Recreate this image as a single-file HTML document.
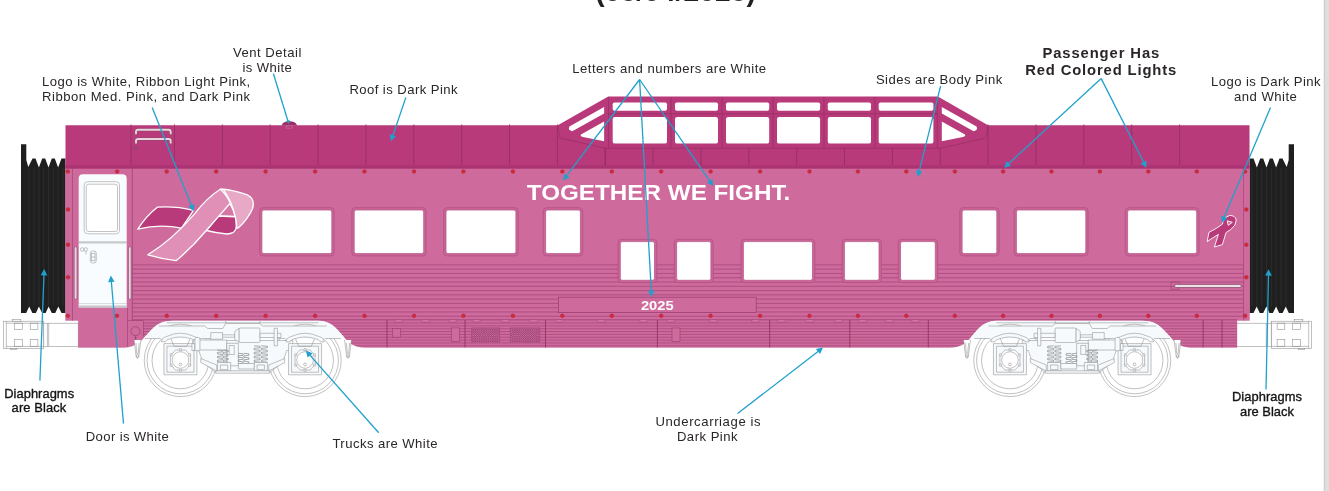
<!DOCTYPE html>
<html><head><meta charset="utf-8"><title>Passenger Car Color Guide</title>
<style>html,body{margin:0;padding:0;background:#fff;}body{width:1329px;height:491px;overflow:hidden;position:relative;font-family:"Liberation Sans",sans-serif;}svg{position:absolute;left:0;top:0;display:block;will-change:transform;}text{font-family:"Liberation Sans",sans-serif;}</style>
</head><body>
<svg width="1329" height="491" viewBox="0 0 1329 491">
<rect x="0" y="0" width="1329" height="491" fill="#ffffff"/>
<rect x="1323.8" y="0" width="5.2" height="491" fill="#DEDEDE"/>
<rect x="1323.8" y="0" width="1.3" height="491" fill="#CFCFCF"/>
<text x="675.6" y="1.4" font-size="29" font-weight="bold" fill="#231F20" text-anchor="middle" textLength="160.5" lengthAdjust="spacingAndGlyphs">(08/04/2025)</text>
<g fill="#ffffff" stroke="#8C8C8C" stroke-width="0.55"><rect x="3.4" y="321.2" width="40.4" height="27.3"/><rect x="43.8" y="323.2" width="34.6" height="23.2"/><path d="M6.3,321.2 L6.3,348.5 M6.3,323.2 L43.8,323.2 M6.3,346.4 L43.8,346.4 M47.4,323.2 L47.4,346.4 M48.7,323.2 L48.7,346.4" fill="none"/><rect x="14.3" y="323.2" width="8.3" height="6.4" fill="none"/><rect x="30.2" y="323.2" width="7.7" height="6.4" fill="none"/><rect x="14.3" y="339.5" width="8.3" height="6.9" fill="none"/><rect x="30.2" y="339.5" width="7.7" height="6.9" fill="none"/><rect x="12.2" y="319.3" width="8.7" height="1.9"/><rect x="10.2" y="348.5" width="6.6" height="1"/></g>
<g transform="translate(1315,0) scale(-1,1)"><g fill="#ffffff" stroke="#8C8C8C" stroke-width="0.55"><rect x="3.4" y="321.2" width="40.4" height="27.3"/><rect x="43.8" y="323.2" width="34.6" height="23.2"/><path d="M6.3,321.2 L6.3,348.5 M6.3,323.2 L43.8,323.2 M6.3,346.4 L43.8,346.4 M47.4,323.2 L47.4,346.4 M48.7,323.2 L48.7,346.4" fill="none"/><rect x="14.3" y="323.2" width="8.3" height="6.4" fill="none"/><rect x="30.2" y="323.2" width="7.7" height="6.4" fill="none"/><rect x="14.3" y="339.5" width="8.3" height="6.9" fill="none"/><rect x="30.2" y="339.5" width="7.7" height="6.9" fill="none"/><rect x="12.2" y="319.3" width="8.7" height="1.9"/><rect x="10.2" y="348.5" width="6.6" height="1"/></g></g>
<g><path d="M21,144.3 L26.3,144.3 L26.3,160 L28.3,167 L32.5,158.5 L35.5,158.5 L38.9,167.5 L42.2,158.5 L45.2,158.5 L48.5,167.5 L51.8,158.5 L54.8,158.5 L58.1,167.5 L61.5,158.5 L64.5,158.5 L65.5,158.5 L65.5,313 L63.5,313 L65.5,313.0 L61.5,313.0 L58.3,306.5 L55.3,313.0 L51.8,313.0 L48.6,306.5 L45.6,313.0 L42.1,313.0 L38.9,306.5 L35.9,313.0 L32.4,313.0 L29.2,306.5 L26.2,313.0 L21.0,313.0 Z" fill="#1F1F1F"/><line x1="29.0" y1="168" x2="29.0" y2="306" stroke="#3a3a3a" stroke-width="0.5"/><line x1="34.0" y1="168" x2="34.0" y2="306" stroke="#3a3a3a" stroke-width="0.5"/><line x1="39.0" y1="168" x2="39.0" y2="306" stroke="#3a3a3a" stroke-width="0.5"/><line x1="43.7" y1="168" x2="43.7" y2="306" stroke="#3a3a3a" stroke-width="0.5"/><line x1="48.5" y1="168" x2="48.5" y2="306" stroke="#3a3a3a" stroke-width="0.5"/><line x1="53.3" y1="168" x2="53.3" y2="306" stroke="#3a3a3a" stroke-width="0.5"/><line x1="58.0" y1="168" x2="58.0" y2="306" stroke="#3a3a3a" stroke-width="0.5"/><line x1="63.0" y1="168" x2="63.0" y2="306" stroke="#3a3a3a" stroke-width="0.5"/></g>
<g transform="translate(1315,0) scale(-1,1)"><path d="M21,144.3 L26.3,144.3 L26.3,160 L28.3,167 L32.5,158.5 L35.5,158.5 L38.9,167.5 L42.2,158.5 L45.2,158.5 L48.5,167.5 L51.8,158.5 L54.8,158.5 L58.1,167.5 L61.5,158.5 L64.5,158.5 L65.5,158.5 L65.5,313 L63.5,313 L65.5,313.0 L61.5,313.0 L58.3,306.5 L55.3,313.0 L51.8,313.0 L48.6,306.5 L45.6,313.0 L42.1,313.0 L38.9,306.5 L35.9,313.0 L32.4,313.0 L29.2,306.5 L26.2,313.0 L21.0,313.0 Z" fill="#1F1F1F"/><line x1="29.0" y1="168" x2="29.0" y2="306" stroke="#3a3a3a" stroke-width="0.5"/><line x1="34.0" y1="168" x2="34.0" y2="306" stroke="#3a3a3a" stroke-width="0.5"/><line x1="39.0" y1="168" x2="39.0" y2="306" stroke="#3a3a3a" stroke-width="0.5"/><line x1="43.7" y1="168" x2="43.7" y2="306" stroke="#3a3a3a" stroke-width="0.5"/><line x1="48.5" y1="168" x2="48.5" y2="306" stroke="#3a3a3a" stroke-width="0.5"/><line x1="53.3" y1="168" x2="53.3" y2="306" stroke="#3a3a3a" stroke-width="0.5"/><line x1="58.0" y1="168" x2="58.0" y2="306" stroke="#3a3a3a" stroke-width="0.5"/><line x1="63.0" y1="168" x2="63.0" y2="306" stroke="#3a3a3a" stroke-width="0.5"/></g>
<defs><clipPath id="bodyclip"><path d="M65.5,166 L1249.5,166 L1249.5,320.5 L1237,320.5 L1237,347.4 L1190.6,347.4 C1179.0,347.4 1173.0,340.0 1166.1,332.5 S1155.0,320.8 1141.7,320.8 L997.0,320.8 C983.0,320.8 978.0,329.0 972.4,335.5 S963.0,347.4 949.0,347.4 L366,347.4 C352,347.4 348.5,342 342.6,335.5 S332,320.8 318,320.8 L173.3,320.8 C160,320.8 155,325.5 148.9,332.5 S136,347.4 124.4,347.4 L78.3,347.4 L78.3,320.5 L65.5,320.5 Z"/></clipPath></defs>
<path d="M65.5,166 L1249.5,166 L1249.5,320.5 L1237,320.5 L1237,347.4 L1190.6,347.4 C1179.0,347.4 1173.0,340.0 1166.1,332.5 S1155.0,320.8 1141.7,320.8 L997.0,320.8 C983.0,320.8 978.0,329.0 972.4,335.5 S963.0,347.4 949.0,347.4 L366,347.4 C352,347.4 348.5,342 342.6,335.5 S332,320.8 318,320.8 L173.3,320.8 C160,320.8 155,325.5 148.9,332.5 S136,347.4 124.4,347.4 L78.3,347.4 L78.3,320.5 L65.5,320.5 Z" fill="#CE6A9C"/>
<g clip-path="url(#bodyclip)">
<line x1="132.5" y1="264.90" x2="1243.5" y2="264.90" stroke="#9A3E72" stroke-width="0.6"/><line x1="132.5" y1="269.18" x2="1243.5" y2="269.18" stroke="#9A3E72" stroke-width="0.6"/><line x1="132.5" y1="273.46" x2="1243.5" y2="273.46" stroke="#9A3E72" stroke-width="0.6"/><line x1="132.5" y1="277.74" x2="1243.5" y2="277.74" stroke="#9A3E72" stroke-width="0.6"/><line x1="132.5" y1="282.02" x2="1243.5" y2="282.02" stroke="#9A3E72" stroke-width="0.6"/><line x1="132.5" y1="286.30" x2="1243.5" y2="286.30" stroke="#9A3E72" stroke-width="0.6"/><line x1="132.5" y1="290.58" x2="1243.5" y2="290.58" stroke="#9A3E72" stroke-width="0.6"/><line x1="132.5" y1="294.86" x2="1243.5" y2="294.86" stroke="#9A3E72" stroke-width="0.6"/><line x1="132.5" y1="299.14" x2="1243.5" y2="299.14" stroke="#9A3E72" stroke-width="0.6"/><line x1="132.5" y1="303.42" x2="1243.5" y2="303.42" stroke="#9A3E72" stroke-width="0.6"/><line x1="132.5" y1="307.70" x2="1243.5" y2="307.70" stroke="#9A3E72" stroke-width="0.6"/><line x1="132.5" y1="311.98" x2="1243.5" y2="311.98" stroke="#9A3E72" stroke-width="0.6"/><line x1="132.5" y1="316.26" x2="1243.5" y2="316.26" stroke="#9A3E72" stroke-width="0.6"/>
<line x1="132.5" y1="319.8" x2="1237" y2="319.8" stroke="#9A3E72" stroke-width="0.8"/>
<line x1="143.5" y1="323.00" x2="1237" y2="323.00" stroke="#9A3E72" stroke-width="0.6"/><line x1="143.5" y1="325.85" x2="1237" y2="325.85" stroke="#9A3E72" stroke-width="0.6"/><line x1="143.5" y1="328.70" x2="1237" y2="328.70" stroke="#9A3E72" stroke-width="0.6"/><line x1="143.5" y1="331.55" x2="1237" y2="331.55" stroke="#9A3E72" stroke-width="0.6"/><line x1="143.5" y1="334.40" x2="1237" y2="334.40" stroke="#9A3E72" stroke-width="0.6"/><line x1="143.5" y1="337.25" x2="1237" y2="337.25" stroke="#9A3E72" stroke-width="0.6"/><line x1="143.5" y1="340.10" x2="1237" y2="340.10" stroke="#9A3E72" stroke-width="0.6"/><line x1="143.5" y1="342.95" x2="1237" y2="342.95" stroke="#9A3E72" stroke-width="0.6"/><line x1="143.5" y1="345.80" x2="1237" y2="345.80" stroke="#9A3E72" stroke-width="0.6"/>
</g>
<line x1="387.0" y1="320" x2="387.0" y2="347.5" stroke="#8E2C5E" stroke-width="0.8"/>
<line x1="465.0" y1="320" x2="465.0" y2="347.5" stroke="#8E2C5E" stroke-width="0.8"/>
<line x1="545.5" y1="320" x2="545.5" y2="347.5" stroke="#8E2C5E" stroke-width="0.8"/>
<line x1="657.4" y1="320" x2="657.4" y2="347.5" stroke="#8E2C5E" stroke-width="0.8"/>
<line x1="769.7" y1="320" x2="769.7" y2="347.5" stroke="#8E2C5E" stroke-width="0.8"/>
<line x1="849.8" y1="320" x2="849.8" y2="347.5" stroke="#8E2C5E" stroke-width="0.8"/>
<line x1="928.3" y1="320" x2="928.3" y2="347.5" stroke="#8E2C5E" stroke-width="0.8"/>
<line x1="1203.1" y1="320" x2="1203.1" y2="347.5" stroke="#8E2C5E" stroke-width="0.8"/>
<line x1="1222.0" y1="320" x2="1222.0" y2="347.5" stroke="#8E2C5E" stroke-width="0.8"/>
<path d="M65.5,166 L1249.5,166 L1249.5,320.5 L1237,320.5 L1237,347.4 L1190.6,347.4 C1179.0,347.4 1173.0,340.0 1166.1,332.5 S1155.0,320.8 1141.7,320.8 L997.0,320.8 C983.0,320.8 978.0,329.0 972.4,335.5 S963.0,347.4 949.0,347.4 L366,347.4 C352,347.4 348.5,342 342.6,335.5 S332,320.8 318,320.8 L173.3,320.8 C160,320.8 155,325.5 148.9,332.5 S136,347.4 124.4,347.4 L78.3,347.4 L78.3,320.5 L65.5,320.5 Z" fill="none" stroke="#BD588C" stroke-width="0.5" opacity="0.6"/>
<rect x="392.4" y="328.5" width="8.1" height="8.7" fill="#CE6A9C" stroke="#9A3E72" stroke-width="0.60"/>
<rect x="451.4" y="327.9" width="8.3" height="13.5" fill="#CE6A9C" stroke="#9A3E72" stroke-width="0.60"/>
<rect x="672.0" y="328.0" width="8.0" height="13.5" fill="#CE6A9C" stroke="#9A3E72" stroke-width="0.60"/>
<defs><pattern id="grille" width="2.2" height="2.2" patternUnits="userSpaceOnUse"><rect width="2.2" height="2.2" fill="#CA689A"/><path d="M0,0 L2.2,2.2 M2.2,0 L0,2.2" stroke="#8E3A68" stroke-width="0.5"/></pattern></defs>
<rect x="471.3" y="327.9" width="28.5" height="14.1" fill="url(#grille)" stroke="#A04878" stroke-width="0.5"/>
<rect x="510.2" y="327.9" width="29.7" height="14.1" fill="url(#grille)" stroke="#A04878" stroke-width="0.5"/>
<ellipse cx="398.7" cy="320.9" rx="4.5" ry="1.35" fill="#D377A5" stroke="#9A3E72" stroke-width="0.5"/>
<ellipse cx="425.8" cy="320.9" rx="4.5" ry="1.35" fill="#D377A5" stroke="#9A3E72" stroke-width="0.5"/>
<ellipse cx="452.7" cy="320.9" rx="4.5" ry="1.35" fill="#D377A5" stroke="#9A3E72" stroke-width="0.5"/>
<ellipse cx="476.4" cy="320.9" rx="4.5" ry="1.35" fill="#D377A5" stroke="#9A3E72" stroke-width="0.5"/>
<ellipse cx="505.3" cy="320.9" rx="4.5" ry="1.35" fill="#D377A5" stroke="#9A3E72" stroke-width="0.5"/>
<ellipse cx="533.8" cy="320.9" rx="4.5" ry="1.35" fill="#D377A5" stroke="#9A3E72" stroke-width="0.5"/>
<ellipse cx="559.3" cy="320.9" rx="4.5" ry="1.35" fill="#D377A5" stroke="#9A3E72" stroke-width="0.5"/>
<ellipse cx="601.1" cy="320.9" rx="4.5" ry="1.35" fill="#D377A5" stroke="#9A3E72" stroke-width="0.5"/>
<ellipse cx="643.7" cy="320.9" rx="4.5" ry="1.35" fill="#D377A5" stroke="#9A3E72" stroke-width="0.5"/>
<ellipse cx="670.7" cy="320.9" rx="4.5" ry="1.35" fill="#D377A5" stroke="#9A3E72" stroke-width="0.5"/>
<ellipse cx="713.3" cy="320.9" rx="4.5" ry="1.35" fill="#D377A5" stroke="#9A3E72" stroke-width="0.5"/>
<ellipse cx="755.6" cy="320.9" rx="4.5" ry="1.35" fill="#D377A5" stroke="#9A3E72" stroke-width="0.5"/>
<ellipse cx="781.5" cy="320.9" rx="4.5" ry="1.35" fill="#D377A5" stroke="#9A3E72" stroke-width="0.5"/>
<ellipse cx="809.9" cy="320.9" rx="4.5" ry="1.35" fill="#D377A5" stroke="#9A3E72" stroke-width="0.5"/>
<ellipse cx="838.6" cy="320.9" rx="4.5" ry="1.35" fill="#D377A5" stroke="#9A3E72" stroke-width="0.5"/>
<ellipse cx="862.3" cy="320.9" rx="4.5" ry="1.35" fill="#D377A5" stroke="#9A3E72" stroke-width="0.5"/>
<ellipse cx="889.3" cy="320.9" rx="4.5" ry="1.35" fill="#D377A5" stroke="#9A3E72" stroke-width="0.5"/>
<ellipse cx="915.7" cy="320.9" rx="4.5" ry="1.35" fill="#D377A5" stroke="#9A3E72" stroke-width="0.5"/>
<rect x="558.6" y="297.2" width="197.6" height="15.2" fill="#CE6A9C" stroke="#9A3E72" stroke-width="0.7"/>
<text x="657.3" y="310" font-size="13.4" font-weight="bold" fill="#ffffff" text-anchor="middle" textLength="32.8" lengthAdjust="spacingAndGlyphs">2025</text>
<line x1="72.5" y1="168" x2="72.5" y2="320.5" stroke="#9A3E72" stroke-width="0.6"/>
<line x1="132.3" y1="168" x2="132.3" y2="320.5" stroke="#9A3E72" stroke-width="0.7"/>
<line x1="1243.5" y1="168" x2="1243.5" y2="320.5" stroke="#9A3E72" stroke-width="0.6"/>
<line x1="127.5" y1="308" x2="127.5" y2="347" stroke="#9A3E72" stroke-width="0.6"/>
<line x1="143.5" y1="321" x2="143.5" y2="336" stroke="#9A3E72" stroke-width="0.6"/>
<line x1="127.5" y1="320.5" x2="143.5" y2="320.5" stroke="#9A3E72" stroke-width="0.6"/>
<circle cx="135.5" cy="331.2" r="4.5" fill="none" stroke="#9A3E72" stroke-width="0.7"/>
<path d="M135.5,335.7 L135.5,340 M134,338 L137,338" fill="none" stroke="#9A3E72" stroke-width="0.7"/>
<path d="M65.5,125.3 L557.8,125.3 L608.2,96.4 L937.8,96.4 L988.1,125.3 L1249.5,125.3 L1249.5,168.5 L65.5,168.5 Z" fill="#B93A7A"/>
<rect x="65.5" y="165.4" width="1184" height="3.1" fill="#A93373"/>
<line x1="131.0" y1="124.3" x2="131.0" y2="165" stroke="#8E2C5E" stroke-width="0.7"/>
<line x1="174.5" y1="124.3" x2="174.5" y2="165" stroke="#8E2C5E" stroke-width="0.7"/>
<line x1="222.4" y1="124.3" x2="222.4" y2="165" stroke="#8E2C5E" stroke-width="0.7"/>
<line x1="270.2" y1="124.3" x2="270.2" y2="165" stroke="#8E2C5E" stroke-width="0.7"/>
<line x1="318.1" y1="124.3" x2="318.1" y2="165" stroke="#8E2C5E" stroke-width="0.7"/>
<line x1="365.9" y1="124.3" x2="365.9" y2="165" stroke="#8E2C5E" stroke-width="0.7"/>
<line x1="413.8" y1="124.3" x2="413.8" y2="165" stroke="#8E2C5E" stroke-width="0.7"/>
<line x1="461.7" y1="124.3" x2="461.7" y2="165" stroke="#8E2C5E" stroke-width="0.7"/>
<line x1="509.5" y1="124.3" x2="509.5" y2="165" stroke="#8E2C5E" stroke-width="0.7"/>
<line x1="557.4" y1="124.3" x2="557.4" y2="165" stroke="#8E2C5E" stroke-width="0.7"/>
<line x1="605.2" y1="148.2" x2="605.2" y2="165" stroke="#8E2C5E" stroke-width="0.7"/>
<line x1="653.1" y1="148.2" x2="653.1" y2="165" stroke="#8E2C5E" stroke-width="0.7"/>
<line x1="701.0" y1="148.2" x2="701.0" y2="165" stroke="#8E2C5E" stroke-width="0.7"/>
<line x1="748.8" y1="148.2" x2="748.8" y2="165" stroke="#8E2C5E" stroke-width="0.7"/>
<line x1="796.7" y1="148.2" x2="796.7" y2="165" stroke="#8E2C5E" stroke-width="0.7"/>
<line x1="844.5" y1="148.2" x2="844.5" y2="165" stroke="#8E2C5E" stroke-width="0.7"/>
<line x1="892.4" y1="148.2" x2="892.4" y2="165" stroke="#8E2C5E" stroke-width="0.7"/>
<line x1="940.3" y1="148.2" x2="940.3" y2="165" stroke="#8E2C5E" stroke-width="0.7"/>
<line x1="988.1" y1="124.3" x2="988.1" y2="165" stroke="#8E2C5E" stroke-width="0.7"/>
<line x1="1036.0" y1="124.3" x2="1036.0" y2="165" stroke="#8E2C5E" stroke-width="0.7"/>
<line x1="1083.8" y1="124.3" x2="1083.8" y2="165" stroke="#8E2C5E" stroke-width="0.7"/>
<line x1="1131.7" y1="124.3" x2="1131.7" y2="165" stroke="#8E2C5E" stroke-width="0.7"/>
<line x1="1179.6" y1="124.3" x2="1179.6" y2="165" stroke="#8E2C5E" stroke-width="0.7"/>
<path d="M557.8,125.3 L560,138 L605,148.2 L941,148.2 L986,138 L988.1,125.3" fill="none" stroke="#8E2C5E" stroke-width="0.6"/>
<line x1="605.4" y1="148.2" x2="605.4" y2="165" stroke="#8E2C5E" stroke-width="0.7"/>
<line x1="608.5" y1="97" x2="608.5" y2="148" stroke="#8E2C5E" stroke-width="0.6"/>
<line x1="671.0" y1="97" x2="671.0" y2="148" stroke="#8E2C5E" stroke-width="0.6"/>
<line x1="722.0" y1="97" x2="722.0" y2="148" stroke="#8E2C5E" stroke-width="0.6"/>
<line x1="773.0" y1="97" x2="773.0" y2="148" stroke="#8E2C5E" stroke-width="0.6"/>
<line x1="824.0" y1="97" x2="824.0" y2="148" stroke="#8E2C5E" stroke-width="0.6"/>
<line x1="875.0" y1="97" x2="875.0" y2="148" stroke="#8E2C5E" stroke-width="0.6"/>
<line x1="937.3" y1="97" x2="937.3" y2="148" stroke="#8E2C5E" stroke-width="0.6"/>
<line x1="608" y1="113.8" x2="938" y2="113.8" stroke="#8E2C5E" stroke-width="0.6"/>
<rect x="612.7" y="102.4" width="54.3" height="8.3" rx="1.8" fill="#ffffff"/>
<rect x="612.7" y="117" width="54.3" height="26.6" rx="2.2" fill="#ffffff"/>
<rect x="675.0" y="102.4" width="43.0" height="8.3" rx="1.8" fill="#ffffff"/>
<rect x="675.0" y="117" width="43.0" height="26.6" rx="2.2" fill="#ffffff"/>
<rect x="726.0" y="102.4" width="43.2" height="8.3" rx="1.8" fill="#ffffff"/>
<rect x="726.0" y="117" width="43.2" height="26.6" rx="2.2" fill="#ffffff"/>
<rect x="777.0" y="102.4" width="43.1" height="8.3" rx="1.8" fill="#ffffff"/>
<rect x="777.0" y="117" width="43.1" height="26.6" rx="2.2" fill="#ffffff"/>
<rect x="827.8" y="102.4" width="43.2" height="8.3" rx="1.8" fill="#ffffff"/>
<rect x="827.8" y="117" width="43.2" height="26.6" rx="2.2" fill="#ffffff"/>
<rect x="878.7" y="102.4" width="54.7" height="8.3" rx="1.8" fill="#ffffff"/>
<rect x="878.7" y="117" width="54.7" height="26.6" rx="2.2" fill="#ffffff"/>
<path d="M572.3,131.2 L604.1,113.4 L604.1,107 L569.4,126.6 Q567.6,130.6 572.3,131.2 Z" fill="#ffffff"/>
<path d="M581,134.6 L604.1,121.4 L604.1,141.3 L583,137 Q579.5,136 581,134.6 Z" fill="#ffffff"/>
<g transform="translate(1545.9,0) scale(-1,1)"><path d="M572.3,131.2 L604.1,113.4 L604.1,107 L569.4,126.6 Q567.6,130.6 572.3,131.2 Z" fill="#ffffff"/><path d="M581,134.6 L604.1,121.4 L604.1,141.3 L583,137 Q579.5,136 581,134.6 Z" fill="#ffffff"/></g>
<path d="M281.6,125.4 Q283,121.3 289.3,121.3 Q295.7,121.3 297.1,125.4 Z" fill="#9C2E68"/>
<rect x="286.5" y="125.9" width="6.1" height="2.2" fill="none" stroke="#CC7FA8" stroke-width="0.45"/>
<path d="M136,134.4 L136,131.8 Q136,129.8 138.2,129.8 L168.5,129.8 Q170.7,129.8 170.7,131.8 L170.7,134.4" fill="none" stroke="#8E4A6C" stroke-width="3.0"/>
<path d="M136,134.2 L136,131.8 Q136,129.8 138.2,129.8 L168.5,129.8 Q170.7,129.8 170.7,131.8 L170.7,134.2" fill="none" stroke="#EAD3DD" stroke-width="1.9"/>
<path d="M136,143.6 L136,141.0 Q136,139.0 138.2,139.0 L168.5,139.0 Q170.7,139.0 170.7,141.0 L170.7,143.6" fill="none" stroke="#8E4A6C" stroke-width="3.0"/>
<path d="M136,143.4 L136,141.0 Q136,139.0 138.2,139.0 L168.5,139.0 Q170.7,139.0 170.7,141.0 L170.7,143.4" fill="none" stroke="#EAD3DD" stroke-width="1.9"/>
<rect x="134" y="146" width="4" height="3.2" fill="#9A4472"/>
<rect x="259.6" y="207.7" width="74.5" height="48.2" rx="3.4" fill="#CB6698" stroke="#B04E82" stroke-width="0.7"/><rect x="261.9" y="210.0" width="69.9" height="43.6" rx="2" fill="#ffffff" stroke="#B95888" stroke-width="0.8"/>
<rect x="351.9" y="207.7" width="74.1" height="48.2" rx="3.4" fill="#CB6698" stroke="#B04E82" stroke-width="0.7"/><rect x="354.2" y="210.0" width="69.5" height="43.6" rx="2" fill="#ffffff" stroke="#B95888" stroke-width="0.8"/>
<rect x="443.7" y="207.7" width="74.5" height="48.2" rx="3.4" fill="#CB6698" stroke="#B04E82" stroke-width="0.7"/><rect x="446.0" y="210.0" width="69.9" height="43.6" rx="2" fill="#ffffff" stroke="#B95888" stroke-width="0.8"/>
<rect x="543.3" y="207.7" width="39.4" height="48.2" rx="3.4" fill="#CB6698" stroke="#B04E82" stroke-width="0.7"/><rect x="545.6" y="210.0" width="34.8" height="43.6" rx="2" fill="#ffffff" stroke="#B95888" stroke-width="0.8"/>
<rect x="959.8" y="207.7" width="39.3" height="48.2" rx="3.4" fill="#CB6698" stroke="#B04E82" stroke-width="0.7"/><rect x="962.1" y="210.0" width="34.7" height="43.6" rx="2" fill="#ffffff" stroke="#B95888" stroke-width="0.8"/>
<rect x="1014.1" y="207.7" width="74.0" height="48.2" rx="3.4" fill="#CB6698" stroke="#B04E82" stroke-width="0.7"/><rect x="1016.4" y="210.0" width="69.4" height="43.6" rx="2" fill="#ffffff" stroke="#B95888" stroke-width="0.8"/>
<rect x="1125.3" y="207.7" width="73.7" height="48.2" rx="3.4" fill="#CB6698" stroke="#B04E82" stroke-width="0.7"/><rect x="1127.6" y="210.0" width="69.1" height="43.6" rx="2" fill="#ffffff" stroke="#B95888" stroke-width="0.8"/>
<rect x="618.0" y="239.3" width="38.8" height="43.3" rx="3.4" fill="#CB6698" stroke="#B04E82" stroke-width="0.7"/><rect x="620.3" y="241.6" width="34.2" height="38.7" rx="2" fill="#ffffff" stroke="#B95888" stroke-width="0.8"/>
<rect x="674.3" y="239.3" width="38.9" height="43.3" rx="3.4" fill="#CB6698" stroke="#B04E82" stroke-width="0.7"/><rect x="676.6" y="241.6" width="34.3" height="38.7" rx="2" fill="#ffffff" stroke="#B95888" stroke-width="0.8"/>
<rect x="741.1" y="239.3" width="73.7" height="43.3" rx="3.4" fill="#CB6698" stroke="#B04E82" stroke-width="0.7"/><rect x="743.4" y="241.6" width="69.1" height="38.7" rx="2" fill="#ffffff" stroke="#B95888" stroke-width="0.8"/>
<rect x="842.1" y="239.3" width="39.2" height="43.3" rx="3.4" fill="#CB6698" stroke="#B04E82" stroke-width="0.7"/><rect x="844.4" y="241.6" width="34.6" height="38.7" rx="2" fill="#ffffff" stroke="#B95888" stroke-width="0.8"/>
<rect x="898.2" y="239.3" width="39.4" height="43.3" rx="3.4" fill="#CB6698" stroke="#B04E82" stroke-width="0.7"/><rect x="900.5" y="241.6" width="34.8" height="38.7" rx="2" fill="#ffffff" stroke="#B95888" stroke-width="0.8"/>
<circle cx="67.8" cy="171.5" r="1.8" fill="#D42A3B" stroke="#B8202F" stroke-width="0.6"/>
<circle cx="67.8" cy="315.8" r="1.8" fill="#D42A3B" stroke="#B8202F" stroke-width="0.6"/>
<circle cx="117.2" cy="171.5" r="1.8" fill="#D42A3B" stroke="#B8202F" stroke-width="0.6"/>
<circle cx="166.7" cy="171.5" r="1.8" fill="#D42A3B" stroke="#B8202F" stroke-width="0.6"/>
<circle cx="166.7" cy="315.8" r="1.8" fill="#D42A3B" stroke="#B8202F" stroke-width="0.6"/>
<circle cx="216.2" cy="171.5" r="1.8" fill="#D42A3B" stroke="#B8202F" stroke-width="0.6"/>
<circle cx="216.2" cy="315.8" r="1.8" fill="#D42A3B" stroke="#B8202F" stroke-width="0.6"/>
<circle cx="265.6" cy="171.5" r="1.8" fill="#D42A3B" stroke="#B8202F" stroke-width="0.6"/>
<circle cx="265.6" cy="315.8" r="1.8" fill="#D42A3B" stroke="#B8202F" stroke-width="0.6"/>
<circle cx="315.1" cy="171.5" r="1.8" fill="#D42A3B" stroke="#B8202F" stroke-width="0.6"/>
<circle cx="315.1" cy="315.8" r="1.8" fill="#D42A3B" stroke="#B8202F" stroke-width="0.6"/>
<circle cx="364.5" cy="171.5" r="1.8" fill="#D42A3B" stroke="#B8202F" stroke-width="0.6"/>
<circle cx="364.5" cy="315.8" r="1.8" fill="#D42A3B" stroke="#B8202F" stroke-width="0.6"/>
<circle cx="414.0" cy="171.5" r="1.8" fill="#D42A3B" stroke="#B8202F" stroke-width="0.6"/>
<circle cx="414.0" cy="315.8" r="1.8" fill="#D42A3B" stroke="#B8202F" stroke-width="0.6"/>
<circle cx="463.4" cy="171.5" r="1.8" fill="#D42A3B" stroke="#B8202F" stroke-width="0.6"/>
<circle cx="463.4" cy="315.8" r="1.8" fill="#D42A3B" stroke="#B8202F" stroke-width="0.6"/>
<circle cx="512.9" cy="171.5" r="1.8" fill="#D42A3B" stroke="#B8202F" stroke-width="0.6"/>
<circle cx="512.9" cy="315.8" r="1.8" fill="#D42A3B" stroke="#B8202F" stroke-width="0.6"/>
<circle cx="562.3" cy="171.5" r="1.8" fill="#D42A3B" stroke="#B8202F" stroke-width="0.6"/>
<circle cx="562.3" cy="315.8" r="1.8" fill="#D42A3B" stroke="#B8202F" stroke-width="0.6"/>
<circle cx="611.8" cy="171.5" r="1.8" fill="#D42A3B" stroke="#B8202F" stroke-width="0.6"/>
<circle cx="611.8" cy="315.8" r="1.8" fill="#D42A3B" stroke="#B8202F" stroke-width="0.6"/>
<circle cx="661.2" cy="171.5" r="1.8" fill="#D42A3B" stroke="#B8202F" stroke-width="0.6"/>
<circle cx="661.2" cy="315.8" r="1.8" fill="#D42A3B" stroke="#B8202F" stroke-width="0.6"/>
<circle cx="710.6" cy="171.5" r="1.8" fill="#D42A3B" stroke="#B8202F" stroke-width="0.6"/>
<circle cx="710.6" cy="315.8" r="1.8" fill="#D42A3B" stroke="#B8202F" stroke-width="0.6"/>
<circle cx="760.1" cy="171.5" r="1.8" fill="#D42A3B" stroke="#B8202F" stroke-width="0.6"/>
<circle cx="760.1" cy="315.8" r="1.8" fill="#D42A3B" stroke="#B8202F" stroke-width="0.6"/>
<circle cx="809.5" cy="171.5" r="1.8" fill="#D42A3B" stroke="#B8202F" stroke-width="0.6"/>
<circle cx="809.5" cy="315.8" r="1.8" fill="#D42A3B" stroke="#B8202F" stroke-width="0.6"/>
<circle cx="857.9" cy="171.5" r="1.8" fill="#D42A3B" stroke="#B8202F" stroke-width="0.6"/>
<circle cx="857.9" cy="315.8" r="1.8" fill="#D42A3B" stroke="#B8202F" stroke-width="0.6"/>
<circle cx="906.3" cy="171.5" r="1.8" fill="#D42A3B" stroke="#B8202F" stroke-width="0.6"/>
<circle cx="906.3" cy="315.8" r="1.8" fill="#D42A3B" stroke="#B8202F" stroke-width="0.6"/>
<circle cx="954.8" cy="171.5" r="1.8" fill="#D42A3B" stroke="#B8202F" stroke-width="0.6"/>
<circle cx="954.8" cy="315.8" r="1.8" fill="#D42A3B" stroke="#B8202F" stroke-width="0.6"/>
<circle cx="1003.1" cy="171.5" r="1.8" fill="#D42A3B" stroke="#B8202F" stroke-width="0.6"/>
<circle cx="1003.1" cy="315.8" r="1.8" fill="#D42A3B" stroke="#B8202F" stroke-width="0.6"/>
<circle cx="1051.5" cy="171.5" r="1.8" fill="#D42A3B" stroke="#B8202F" stroke-width="0.6"/>
<circle cx="1051.5" cy="315.8" r="1.8" fill="#D42A3B" stroke="#B8202F" stroke-width="0.6"/>
<circle cx="1099.9" cy="171.5" r="1.8" fill="#D42A3B" stroke="#B8202F" stroke-width="0.6"/>
<circle cx="1099.9" cy="315.8" r="1.8" fill="#D42A3B" stroke="#B8202F" stroke-width="0.6"/>
<circle cx="1148.3" cy="171.5" r="1.8" fill="#D42A3B" stroke="#B8202F" stroke-width="0.6"/>
<circle cx="1148.3" cy="315.8" r="1.8" fill="#D42A3B" stroke="#B8202F" stroke-width="0.6"/>
<circle cx="1196.8" cy="171.5" r="1.8" fill="#D42A3B" stroke="#B8202F" stroke-width="0.6"/>
<circle cx="1196.8" cy="315.8" r="1.8" fill="#D42A3B" stroke="#B8202F" stroke-width="0.6"/>
<circle cx="1245.1" cy="171.5" r="1.8" fill="#D42A3B" stroke="#B8202F" stroke-width="0.6"/>
<circle cx="1245.1" cy="315.8" r="1.8" fill="#D42A3B" stroke="#B8202F" stroke-width="0.6"/>
<circle cx="117" cy="315.8" r="1.8" fill="#D42A3B" stroke="#B8202F" stroke-width="0.6"/>
<circle cx="68" cy="209.5" r="1.8" fill="#D42A3B" stroke="#B8202F" stroke-width="0.6"/>
<circle cx="1246.3" cy="209.5" r="1.8" fill="#D42A3B" stroke="#B8202F" stroke-width="0.6"/>
<circle cx="68" cy="244.7" r="1.8" fill="#D42A3B" stroke="#B8202F" stroke-width="0.6"/>
<circle cx="1246.3" cy="244.7" r="1.8" fill="#D42A3B" stroke="#B8202F" stroke-width="0.6"/>
<circle cx="68" cy="277.3" r="1.8" fill="#D42A3B" stroke="#B8202F" stroke-width="0.6"/>
<circle cx="1246.3" cy="277.3" r="1.8" fill="#D42A3B" stroke="#B8202F" stroke-width="0.6"/>
<path d="M78.7,307.6 L78.7,178.5 Q78.7,174.2 83,174.2 L122.4,174.2 Q126.7,174.2 126.7,178.5 L126.7,307.6 Z" fill="#F8FCFE"/>
<rect x="78.7" y="305.5" width="48" height="2.1" fill="#C4C4CA"/>
<rect x="84.2" y="181.7" width="35.3" height="52.1" rx="3.5" fill="#ffffff" stroke="#9A9A9A" stroke-width="0.6"/>
<rect x="86.2" y="184.2" width="31.3" height="47.3" rx="2.5" fill="#ffffff" stroke="#9A9A9A" stroke-width="0.6"/>
<line x1="78.7" y1="242.1" x2="126.7" y2="242.1" stroke="#7E7E7E" stroke-width="0.7"/>
<line x1="78.7" y1="243.6" x2="126.7" y2="243.6" stroke="#C8C8C8" stroke-width="0.5"/>
<line x1="78.7" y1="303.6" x2="126.7" y2="303.6" stroke="#B4B4B4" stroke-width="0.5"/>
<g fill="none" stroke="#9A9A9A" stroke-width="0.6"><circle cx="82.3" cy="249.5" r="1.8"/><circle cx="85.7" cy="249.5" r="1.8"/><path d="M86,251 L86,254.5"/><rect x="90.3" y="251" width="6" height="12" rx="2.4"/><rect x="91.6" y="253.2" width="3.4" height="7.6"/><line x1="91.6" y1="257" x2="95" y2="257"/></g>
<rect x="74.2" y="246.7" width="2.8" height="52.6" rx="1.3" fill="#E9D3DC" stroke="#8E5272" stroke-width="0.7"/>
<rect x="128.4" y="246.7" width="2.8" height="52.6" rx="1.3" fill="#E9D3DC" stroke="#8E5272" stroke-width="0.7"/>
<rect x="1171" y="282" width="8.2" height="7.2" fill="none" stroke="#9A3E72" stroke-width="0.6"/>
<rect x="1174.5" y="284.4" width="66.8" height="3.1" rx="1.5" fill="#EFE0E6" stroke="#7E4465" stroke-width="0.7"/>
<g stroke="#ffffff" stroke-width="1.3" stroke-linejoin="round">
<path d="M218.2,216.2 L235.4,216.8 Q236.3,221 236.4,225.5 Q236,230.5 233.4,232.3 Q230.5,233.8 226.8,234 Q216,233 206.5,230.5 Z" fill="#B93A7A"/>
<path d="M229.8,203.5 L218.5,215.6 L235.2,216.4 Q233.5,209.5 229.8,203.5 Z" fill="#D576A5"/>
<path d="M137.8,229.2 Q146,216 157.3,207.2 Q176,206 193.5,210.4 L181.5,228.2 Q160,223.5 137.8,229.2 Z" fill="#B93A7A"/>
<path d="M220.8,189 Q228,189.3 234.7,191.2 Q243,193 247.9,195.2 Q253,198 253.2,202.5 Q253.5,205.5 252.6,208.5 Q248,219 238.7,227.6 L236.7,228.3 Q236.5,220 234.7,214.4 Q233,208 230.7,202.5 Q227.5,195.5 223.5,190 Z" fill="#E8A9C7"/>
<path d="M147.9,254.8 Q172,240 194.6,213.9 Q207,197.5 220.3,189.2 Q226,194 230.4,202.9 Q219,216 205.6,231.3 Q192,247.5 176.3,260.6 Q161,258.8 147.9,254.8 Z" fill="#E08FB7"/>
</g>
<g stroke="#ffffff" stroke-width="0.9" stroke-linejoin="round" fill="#B93A7A">
<path d="M1207.2,241.6 L1208.9,232.4 Q1217,228.5 1222.3,224.2 Q1223.5,217.5 1229.6,215.5 Q1235,215.2 1236.3,220 Q1236.2,225.5 1230.5,229.8 Q1227.5,231.5 1226,232.6 L1222.4,244.6 L1214.4,247 L1218.4,234.4 Q1212.5,237.8 1207.2,241.6 Z"/>
<path d="M1227.3,220.8 L1232.3,222.3 L1228.2,225.3 Z" fill="#CE6A9C"/>
</g>
<text x="526.8" y="200.1" font-size="22.9" font-weight="bold" fill="#ffffff" textLength="263.5" lengthAdjust="spacingAndGlyphs">TOGETHER WE FIGHT.</text>
<g transform="translate(242.75,0)"><g fill="#F6FAFD" stroke="#8E8E8E" stroke-width="0.55" stroke-linejoin="round"><path d="M-69.5,320.8 L75.3,320.8 C89,320.8 94,329 99.9,335.5 L102.5,338.5 L-99.5,338.5 L-93.9,332.5 C-87,325 -82,320.8 -69.5,320.8 Z" stroke="none"/><circle cx="-62.3" cy="360.4" r="36.2" fill="#ffffff"/><circle cx="-62.3" cy="360.4" r="33.4" fill="#ffffff"/><circle cx="-62.3" cy="360.4" r="28.4" fill="#ffffff"/><circle cx="62.3" cy="360.4" r="36.2" fill="#ffffff"/><circle cx="62.3" cy="360.4" r="33.4" fill="#ffffff"/><circle cx="62.3" cy="360.4" r="28.4" fill="#ffffff"/><path d="M-83,326 L86,326 L99.5,338.5 L-97.5,338.5 Z" stroke="none"/><path d="M-98,338.5 L-82,338.5 M98,338.5 L82,338.5 M-42.5,338.5 L-31,338.5 M42.5,338.5 L31,338.5" fill="none"/><path d="M-108.6,340 L-106.6,357 Q-105.3,360 -104.0,357 L-101.8,340" fill="#ffffff"/><path d="M-106.8,343 L-105.9,354 M-103.6,343 L-104.6,354" fill="none"/><ellipse cx="-105.3" cy="356" rx="0.9" ry="1.5" fill="none"/><path d="M108.6,340 L106.6,357 Q105.3,360 104.0,357 L101.8,340" fill="#ffffff"/><path d="M106.8,343 L105.9,354 M103.6,343 L104.6,354" fill="none"/><ellipse cx="105.3" cy="356" rx="0.9" ry="1.5" fill="none"/><path d="M-84,326 L-38,326 L-35,328.5 L-20,328.5 L-17,323.5 L17,323.5 L20,326 L84,326" fill="none"/><path d="M-76,322.8 L76,322.8" fill="none"/><path d="M-17,321 L-17,323.5 M17,321 L17,323.5" fill="none"/><path d="M-50,340.5 L50,340.5 L50,350.5 L44,350.5 L40,362 L27,372.5 L-27,372.5 L-40,362 L-44,350.5 L-50,350.5 Z"/><rect x="-78.8" y="343.6" width="33" height="31.2"/><rect x="-75.8" y="346.2" width="27" height="26"/><path d="M-81.3,341.8 Q-81.3,338 -76.3,336.6 Q-69.3,333.2 -62.3,333.2 Q-55.3,333.2 -48.3,336.6 Q-43.3,338 -43.3,341.8 L-47.3,341.8 Q-47.8,339.5 -52.3,338.6 Q-57.3,337 -62.3,337 Q-67.3,337 -72.3,338.6 Q-76.8,339.5 -77.3,341.8 Z"/><path d="M-71.8,339 L-68.6,346.3 L-56.0,346.3 L-52.8,339" fill="none"/><path d="M-67.3,350 L-57.3,350 L-52.3,355.6 L-52.3,364.4 L-57.3,370 L-67.3,370 L-72.3,364.4 L-72.3,355.6 Z" fill="#ffffff"/><circle cx="-62.3" cy="360" r="8.3" fill="#ffffff"/><circle cx="-62.3" cy="364.4" r="1.4" fill="none"/><rect x="-63.3" y="348.6" width="2" height="2" fill="#ffffff" stroke-width="0.5"/><rect x="-54.0" y="353.8" width="2" height="2" fill="#ffffff" stroke-width="0.5"/><rect x="-54.0" y="364.2" width="2" height="2" fill="#ffffff" stroke-width="0.5"/><rect x="-63.3" y="369.4" width="2" height="2" fill="#ffffff" stroke-width="0.5"/><rect x="-72.6" y="364.2" width="2" height="2" fill="#ffffff" stroke-width="0.5"/><rect x="-72.6" y="353.8" width="2" height="2" fill="#ffffff" stroke-width="0.5"/><rect x="45.8" y="343.6" width="33" height="31.2"/><rect x="48.8" y="346.2" width="27" height="26"/><path d="M43.3,341.8 Q43.3,338 48.3,336.6 Q55.3,333.2 62.3,333.2 Q69.3,333.2 76.3,336.6 Q81.3,338 81.3,341.8 L77.3,341.8 Q76.8,339.5 72.3,338.6 Q67.3,337 62.3,337 Q57.3,337 52.3,338.6 Q47.8,339.5 47.3,341.8 Z"/><path d="M52.8,339 L56.0,346.3 L68.6,346.3 L71.8,339" fill="none"/><path d="M57.3,350 L67.3,350 L72.3,355.6 L72.3,364.4 L67.3,370 L57.3,370 L52.3,364.4 L52.3,355.6 Z" fill="#ffffff"/><circle cx="62.3" cy="360" r="8.3" fill="#ffffff"/><circle cx="62.3" cy="364.4" r="1.4" fill="none"/><rect x="61.3" y="348.6" width="2" height="2" fill="#ffffff" stroke-width="0.5"/><rect x="70.6" y="353.8" width="2" height="2" fill="#ffffff" stroke-width="0.5"/><rect x="70.6" y="364.2" width="2" height="2" fill="#ffffff" stroke-width="0.5"/><rect x="61.3" y="369.4" width="2" height="2" fill="#ffffff" stroke-width="0.5"/><rect x="52.0" y="364.2" width="2" height="2" fill="#ffffff" stroke-width="0.5"/><rect x="52.0" y="353.8" width="2" height="2" fill="#ffffff" stroke-width="0.5"/><rect x="-32" y="332.6" width="11.8" height="6.6"/><path d="M-20.2,334.8 L-8,334.8 L-8,337.2 L-20.2,337.2" fill="none"/><path d="M-8,331.5 L-3.6,328.2 L-3.6,342.4 L-8,339.5 Z"/><rect x="-3.6" y="328" width="20.8" height="14.5" rx="1.2"/><rect x="17.2" y="333.3" width="21" height="4.2"/><rect x="31.4" y="328.3" width="3.3" height="17.5"/><rect x="-49.5" y="340" width="33.5" height="10"/><rect x="-47.8" y="337.5" width="5" height="13.3" rx="1.5"/><rect x="-50.8" y="343.5" width="2.6" height="7"/><rect x="-16" y="343.3" width="11.6" height="22.5"/><rect x="-13.5" y="345.5" width="5" height="9"/><polyline points="-25.3,350.0 -20.3,350.5 -20.3,351.9 -25.3,352.4 -25.3,353.9 -20.3,354.4 -20.3,355.9 -25.3,356.4 -25.3,357.8 -20.3,358.3 -20.3,359.8 -25.3,360.2 -25.3,361.7 -20.3,362.2" fill="none" stroke="#707070" stroke-width="0.6"/><polyline points="-19.6,350.0 -14.6,350.5 -14.6,351.9 -19.6,352.4 -19.6,353.9 -14.6,354.4 -14.6,355.9 -19.6,356.4 -19.6,357.8 -14.6,358.3 -14.6,359.8 -19.6,360.2 -19.6,361.7 -14.6,362.2" fill="none" stroke="#707070" stroke-width="0.6"/><polyline points="-4.4,353.3 0.4,353.8 0.4,355.3 -4.4,355.8 -4.4,357.3 0.4,357.8 0.4,359.3 -4.4,359.8 -4.4,361.3 0.4,361.8 0.4,363.3 -4.4,363.8" fill="none" stroke="#707070" stroke-width="0.6"/><polyline points="1.2,353.3 6.2,353.8 6.2,355.3 1.2,355.8 1.2,357.3 6.2,357.8 6.2,359.3 1.2,359.8 1.2,361.3 6.2,361.8 6.2,363.3 1.2,363.8" fill="none" stroke="#707070" stroke-width="0.6"/><polyline points="11.4,345.8 17.4,346.3 17.4,347.8 11.4,348.3 11.4,349.8 17.4,350.3 17.4,351.8 11.4,352.3 11.4,353.8 17.4,354.2 17.4,355.7 11.4,356.2 11.4,357.7 17.4,358.2 17.4,359.7 11.4,360.2 11.4,361.7 17.4,362.2" fill="none" stroke="#707070" stroke-width="0.6"/><polyline points="18.6,345.8 24.6,346.3 24.6,347.8 18.6,348.3 18.6,349.8 24.6,350.3 24.6,351.8 18.6,352.3 18.6,353.8 24.6,354.2 24.6,355.7 18.6,356.2 18.6,357.7 24.6,358.2 24.6,359.7 18.6,360.2 18.6,361.7 24.6,362.2" fill="none" stroke="#707070" stroke-width="0.6"/><rect x="-25.3" y="362.5" width="13.2" height="8.3"/><rect x="-22.4" y="365" width="7.4" height="4.6" fill="none"/><rect x="11.4" y="362.5" width="13.2" height="8.3"/><rect x="14.3" y="365" width="7.4" height="4.6" fill="none"/><rect x="-4.4" y="363.5" width="15.8" height="5.5"/><path d="M-42,358.5 L-26,365 L-26,371 L-42,362.5 Z"/><path d="M42,358.5 L26,365 L26,371 L42,362.5 Z"/><path d="M-27,370.8 L27,370.8 L27,373.2 L-27,373.2 Z"/></g></g><g transform="translate(1072.25,0) scale(-1,1)"><g fill="#F6FAFD" stroke="#8E8E8E" stroke-width="0.55" stroke-linejoin="round"><path d="M-69.5,320.8 L75.3,320.8 C89,320.8 94,329 99.9,335.5 L102.5,338.5 L-99.5,338.5 L-93.9,332.5 C-87,325 -82,320.8 -69.5,320.8 Z" stroke="none"/><circle cx="-62.3" cy="360.4" r="36.2" fill="#ffffff"/><circle cx="-62.3" cy="360.4" r="33.4" fill="#ffffff"/><circle cx="-62.3" cy="360.4" r="28.4" fill="#ffffff"/><circle cx="62.3" cy="360.4" r="36.2" fill="#ffffff"/><circle cx="62.3" cy="360.4" r="33.4" fill="#ffffff"/><circle cx="62.3" cy="360.4" r="28.4" fill="#ffffff"/><path d="M-83,326 L86,326 L99.5,338.5 L-97.5,338.5 Z" stroke="none"/><path d="M-98,338.5 L-82,338.5 M98,338.5 L82,338.5 M-42.5,338.5 L-31,338.5 M42.5,338.5 L31,338.5" fill="none"/><path d="M-108.6,340 L-106.6,357 Q-105.3,360 -104.0,357 L-101.8,340" fill="#ffffff"/><path d="M-106.8,343 L-105.9,354 M-103.6,343 L-104.6,354" fill="none"/><ellipse cx="-105.3" cy="356" rx="0.9" ry="1.5" fill="none"/><path d="M108.6,340 L106.6,357 Q105.3,360 104.0,357 L101.8,340" fill="#ffffff"/><path d="M106.8,343 L105.9,354 M103.6,343 L104.6,354" fill="none"/><ellipse cx="105.3" cy="356" rx="0.9" ry="1.5" fill="none"/><path d="M-84,326 L-38,326 L-35,328.5 L-20,328.5 L-17,323.5 L17,323.5 L20,326 L84,326" fill="none"/><path d="M-76,322.8 L76,322.8" fill="none"/><path d="M-17,321 L-17,323.5 M17,321 L17,323.5" fill="none"/><path d="M-50,340.5 L50,340.5 L50,350.5 L44,350.5 L40,362 L27,372.5 L-27,372.5 L-40,362 L-44,350.5 L-50,350.5 Z"/><rect x="-78.8" y="343.6" width="33" height="31.2"/><rect x="-75.8" y="346.2" width="27" height="26"/><path d="M-81.3,341.8 Q-81.3,338 -76.3,336.6 Q-69.3,333.2 -62.3,333.2 Q-55.3,333.2 -48.3,336.6 Q-43.3,338 -43.3,341.8 L-47.3,341.8 Q-47.8,339.5 -52.3,338.6 Q-57.3,337 -62.3,337 Q-67.3,337 -72.3,338.6 Q-76.8,339.5 -77.3,341.8 Z"/><path d="M-71.8,339 L-68.6,346.3 L-56.0,346.3 L-52.8,339" fill="none"/><path d="M-67.3,350 L-57.3,350 L-52.3,355.6 L-52.3,364.4 L-57.3,370 L-67.3,370 L-72.3,364.4 L-72.3,355.6 Z" fill="#ffffff"/><circle cx="-62.3" cy="360" r="8.3" fill="#ffffff"/><circle cx="-62.3" cy="364.4" r="1.4" fill="none"/><rect x="-63.3" y="348.6" width="2" height="2" fill="#ffffff" stroke-width="0.5"/><rect x="-54.0" y="353.8" width="2" height="2" fill="#ffffff" stroke-width="0.5"/><rect x="-54.0" y="364.2" width="2" height="2" fill="#ffffff" stroke-width="0.5"/><rect x="-63.3" y="369.4" width="2" height="2" fill="#ffffff" stroke-width="0.5"/><rect x="-72.6" y="364.2" width="2" height="2" fill="#ffffff" stroke-width="0.5"/><rect x="-72.6" y="353.8" width="2" height="2" fill="#ffffff" stroke-width="0.5"/><rect x="45.8" y="343.6" width="33" height="31.2"/><rect x="48.8" y="346.2" width="27" height="26"/><path d="M43.3,341.8 Q43.3,338 48.3,336.6 Q55.3,333.2 62.3,333.2 Q69.3,333.2 76.3,336.6 Q81.3,338 81.3,341.8 L77.3,341.8 Q76.8,339.5 72.3,338.6 Q67.3,337 62.3,337 Q57.3,337 52.3,338.6 Q47.8,339.5 47.3,341.8 Z"/><path d="M52.8,339 L56.0,346.3 L68.6,346.3 L71.8,339" fill="none"/><path d="M57.3,350 L67.3,350 L72.3,355.6 L72.3,364.4 L67.3,370 L57.3,370 L52.3,364.4 L52.3,355.6 Z" fill="#ffffff"/><circle cx="62.3" cy="360" r="8.3" fill="#ffffff"/><circle cx="62.3" cy="364.4" r="1.4" fill="none"/><rect x="61.3" y="348.6" width="2" height="2" fill="#ffffff" stroke-width="0.5"/><rect x="70.6" y="353.8" width="2" height="2" fill="#ffffff" stroke-width="0.5"/><rect x="70.6" y="364.2" width="2" height="2" fill="#ffffff" stroke-width="0.5"/><rect x="61.3" y="369.4" width="2" height="2" fill="#ffffff" stroke-width="0.5"/><rect x="52.0" y="364.2" width="2" height="2" fill="#ffffff" stroke-width="0.5"/><rect x="52.0" y="353.8" width="2" height="2" fill="#ffffff" stroke-width="0.5"/><rect x="-32" y="332.6" width="11.8" height="6.6"/><path d="M-20.2,334.8 L-8,334.8 L-8,337.2 L-20.2,337.2" fill="none"/><path d="M-8,331.5 L-3.6,328.2 L-3.6,342.4 L-8,339.5 Z"/><rect x="-3.6" y="328" width="20.8" height="14.5" rx="1.2"/><rect x="17.2" y="333.3" width="21" height="4.2"/><rect x="31.4" y="328.3" width="3.3" height="17.5"/><rect x="-49.5" y="340" width="33.5" height="10"/><rect x="-47.8" y="337.5" width="5" height="13.3" rx="1.5"/><rect x="-50.8" y="343.5" width="2.6" height="7"/><rect x="-16" y="343.3" width="11.6" height="22.5"/><rect x="-13.5" y="345.5" width="5" height="9"/><polyline points="-25.3,350.0 -20.3,350.5 -20.3,351.9 -25.3,352.4 -25.3,353.9 -20.3,354.4 -20.3,355.9 -25.3,356.4 -25.3,357.8 -20.3,358.3 -20.3,359.8 -25.3,360.2 -25.3,361.7 -20.3,362.2" fill="none" stroke="#707070" stroke-width="0.6"/><polyline points="-19.6,350.0 -14.6,350.5 -14.6,351.9 -19.6,352.4 -19.6,353.9 -14.6,354.4 -14.6,355.9 -19.6,356.4 -19.6,357.8 -14.6,358.3 -14.6,359.8 -19.6,360.2 -19.6,361.7 -14.6,362.2" fill="none" stroke="#707070" stroke-width="0.6"/><polyline points="-4.4,353.3 0.4,353.8 0.4,355.3 -4.4,355.8 -4.4,357.3 0.4,357.8 0.4,359.3 -4.4,359.8 -4.4,361.3 0.4,361.8 0.4,363.3 -4.4,363.8" fill="none" stroke="#707070" stroke-width="0.6"/><polyline points="1.2,353.3 6.2,353.8 6.2,355.3 1.2,355.8 1.2,357.3 6.2,357.8 6.2,359.3 1.2,359.8 1.2,361.3 6.2,361.8 6.2,363.3 1.2,363.8" fill="none" stroke="#707070" stroke-width="0.6"/><polyline points="11.4,345.8 17.4,346.3 17.4,347.8 11.4,348.3 11.4,349.8 17.4,350.3 17.4,351.8 11.4,352.3 11.4,353.8 17.4,354.2 17.4,355.7 11.4,356.2 11.4,357.7 17.4,358.2 17.4,359.7 11.4,360.2 11.4,361.7 17.4,362.2" fill="none" stroke="#707070" stroke-width="0.6"/><polyline points="18.6,345.8 24.6,346.3 24.6,347.8 18.6,348.3 18.6,349.8 24.6,350.3 24.6,351.8 18.6,352.3 18.6,353.8 24.6,354.2 24.6,355.7 18.6,356.2 18.6,357.7 24.6,358.2 24.6,359.7 18.6,360.2 18.6,361.7 24.6,362.2" fill="none" stroke="#707070" stroke-width="0.6"/><rect x="-25.3" y="362.5" width="13.2" height="8.3"/><rect x="-22.4" y="365" width="7.4" height="4.6" fill="none"/><rect x="11.4" y="362.5" width="13.2" height="8.3"/><rect x="14.3" y="365" width="7.4" height="4.6" fill="none"/><rect x="-4.4" y="363.5" width="15.8" height="5.5"/><path d="M-42,358.5 L-26,365 L-26,371 L-42,362.5 Z"/><path d="M42,358.5 L26,365 L26,371 L42,362.5 Z"/><path d="M-27,370.8 L27,370.8 L27,373.2 L-27,373.2 Z"/></g></g>
<line x1="273.4" y1="73.7" x2="288.1" y2="121.5" stroke="#20A1CB" stroke-width="1.30"/><path d="M288.9,124.0 L286.0,121.1 L289.7,120.0 Z" fill="#20A1CB"/><line x1="152.2" y1="107.4" x2="191.7" y2="206.2" stroke="#20A1CB" stroke-width="1.30"/><path d="M193.7,211.2 L188.3,206.5 L194.4,204.0 Z" fill="#20A1CB"/><line x1="405.9" y1="97.4" x2="392.6" y2="136.2" stroke="#20A1CB" stroke-width="1.30"/><path d="M390.9,141.3 L389.8,134.2 L396.1,136.3 Z" fill="#20A1CB"/><line x1="639.6" y1="79.5" x2="566.3" y2="176.2" stroke="#20A1CB" stroke-width="1.30"/><path d="M563.0,180.5 L564.2,173.4 L569.5,177.4 Z" fill="#20A1CB"/><line x1="639.6" y1="79.5" x2="651.3" y2="291.6" stroke="#20A1CB" stroke-width="1.30"/><path d="M651.6,297.0 L648.0,290.8 L654.5,290.4 Z" fill="#20A1CB"/><line x1="639.6" y1="79.5" x2="710.1" y2="181.6" stroke="#20A1CB" stroke-width="1.30"/><path d="M713.2,186.0 L706.8,182.6 L712.3,178.9 Z" fill="#20A1CB"/><line x1="940.6" y1="86.2" x2="919.0" y2="171.8" stroke="#20A1CB" stroke-width="1.30"/><path d="M917.7,177.0 L916.1,170.0 L922.5,171.6 Z" fill="#20A1CB"/><line x1="1101.2" y1="78.6" x2="1008.2" y2="164.1" stroke="#20A1CB" stroke-width="1.30"/><path d="M1004.2,167.8 L1006.7,161.0 L1011.1,165.9 Z" fill="#20A1CB"/><line x1="1101.2" y1="78.6" x2="1144.0" y2="163.0" stroke="#20A1CB" stroke-width="1.30"/><path d="M1146.4,167.8 L1140.6,163.6 L1146.5,160.6 Z" fill="#20A1CB"/><line x1="1270.5" y1="107.6" x2="1223.9" y2="217.8" stroke="#20A1CB" stroke-width="1.30"/><path d="M1221.8,222.8 L1221.3,215.6 L1227.3,218.2 Z" fill="#20A1CB"/><line x1="39.9" y1="380.6" x2="44.0" y2="274.4" stroke="#20A1CB" stroke-width="1.30"/><path d="M44.2,269.0 L47.3,275.5 L40.7,275.3 Z" fill="#20A1CB"/><line x1="123.5" y1="423.6" x2="111.3" y2="281.0" stroke="#20A1CB" stroke-width="1.30"/><path d="M110.8,275.6 L114.6,281.7 L108.1,282.3 Z" fill="#20A1CB"/><line x1="378.7" y1="432.8" x2="309.4" y2="354.6" stroke="#20A1CB" stroke-width="1.30"/><path d="M305.8,350.6 L312.5,353.2 L307.6,357.6 Z" fill="#20A1CB"/><line x1="737.6" y1="413.6" x2="818.7" y2="350.9" stroke="#20A1CB" stroke-width="1.30"/><path d="M823.0,347.6 L820.0,354.1 L815.9,348.9 Z" fill="#20A1CB"/><line x1="1266.0" y1="389.5" x2="1268.5" y2="274.6" stroke="#20A1CB" stroke-width="1.30"/><path d="M1268.6,269.2 L1271.8,275.7 L1265.2,275.5 Z" fill="#20A1CB"/>
<text x="232.9" y="56.9" font-size="13.1" fill="#2A2627" textLength="68.5" lengthAdjust="spacing">Vent Detail</text><text x="242.4" y="71.6" font-size="13.1" fill="#2A2627" textLength="49.5" lengthAdjust="spacing">is White</text><text x="42.0" y="85.9" font-size="13.1" fill="#2A2627" textLength="208.2" lengthAdjust="spacing">Logo is White, Ribbon Light Pink,</text><text x="42.0" y="101.1" font-size="13.1" fill="#2A2627" textLength="208.0" lengthAdjust="spacing">Ribbon Med. Pink, and Dark Pink</text><text x="349.4" y="93.8" font-size="13.1" fill="#2A2627" textLength="108.1" lengthAdjust="spacing">Roof is Dark Pink</text><text x="572.2" y="72.8" font-size="13.1" fill="#2A2627" textLength="193.9" lengthAdjust="spacing">Letters and numbers are White</text><text x="875.9" y="83.6" font-size="13.1" fill="#2A2627" textLength="126.3" lengthAdjust="spacing">Sides are Body Pink</text><text x="1042.4" y="58.2" font-size="14.8" font-weight="bold" fill="#2A2627" textLength="116.9" lengthAdjust="spacing">Passenger Has</text><text x="1025.2" y="75.2" font-size="14.8" font-weight="bold" fill="#2A2627" textLength="151.0" lengthAdjust="spacing">Red Colored Lights</text><text x="1211.1" y="85.6" font-size="13.1" fill="#2A2627" textLength="109.4" lengthAdjust="spacing">Logo is Dark Pink</text><text x="1234.0" y="100.6" font-size="13.1" fill="#2A2627" textLength="62.9" lengthAdjust="spacing">and White</text><text x="4.2" y="398.0" font-size="12.9" fill="#161415" textLength="69.9" lengthAdjust="spacing" stroke="#161415" stroke-width="0.35">Diaphragms</text><text x="11.6" y="412.3" font-size="12.9" fill="#161415" textLength="54.7" lengthAdjust="spacing" stroke="#161415" stroke-width="0.35">are Black</text><text x="85.8" y="440.6" font-size="13.1" fill="#2A2627" textLength="82.9" lengthAdjust="spacing">Door is White</text><text x="332.4" y="447.6" font-size="13.1" fill="#2A2627" textLength="105.2" lengthAdjust="spacing">Trucks are White</text><text x="655.4" y="426.0" font-size="13.1" fill="#2A2627" textLength="105.2" lengthAdjust="spacing">Undercarriage is</text><text x="676.9" y="440.5" font-size="13.1" fill="#2A2627" textLength="60.7" lengthAdjust="spacing">Dark Pink</text><text x="1232.0" y="401.2" font-size="12.9" fill="#161415" textLength="70.0" lengthAdjust="spacing" stroke="#161415" stroke-width="0.35">Diaphragms</text><text x="1240.0" y="415.6" font-size="12.9" fill="#161415" textLength="54.0" lengthAdjust="spacing" stroke="#161415" stroke-width="0.35">are Black</text>
</svg>
</body></html>
